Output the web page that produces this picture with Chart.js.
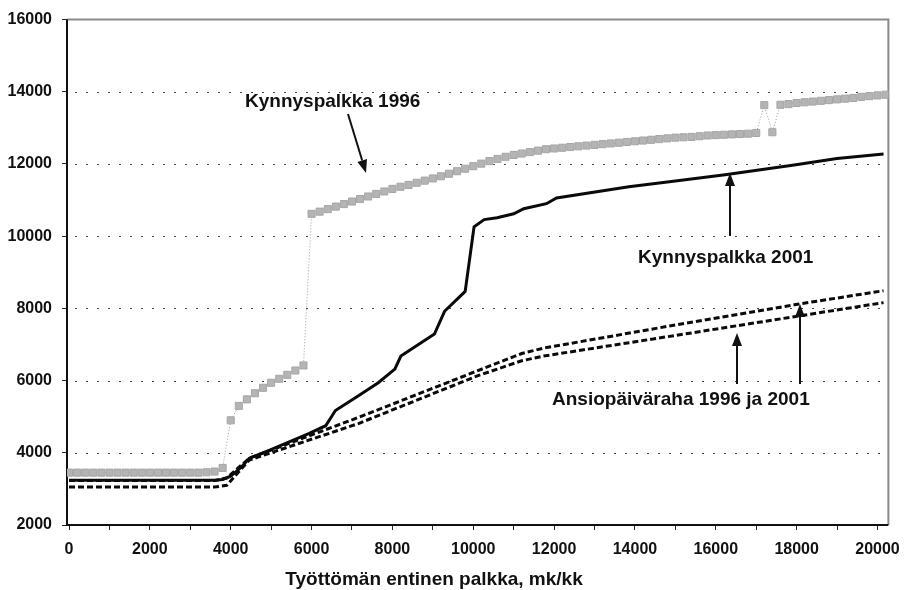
<!DOCTYPE html>
<html lang="fi">
<head>
  <meta charset="UTF-8" />
  <title>Kynnyspalkka ja ansiopäiväraha</title>
  <script src="https://cdn.jsdelivr.net/npm/chart.js"></script>
  <style>
    html, body { margin: 0; padding: 0; background: #fff; }
    #wrap { width: 910px; height: 590px; }
  </style>
</head>
<body>
  <div id="wrap"><canvas id="chart" width="910" height="590"></canvas></div>

  <script>
    // x axis labels (mk/kk)
    const xTicks = [0, 2000, 4000, 6000, 8000, 10000, 12000, 14000, 16000, 18000, 20000];
    const yTicks = [2000, 4000, 6000, 8000, 10000, 12000, 14000, 16000];

    // Kynnyspalkka 1996, read every 200 mk/kk starting at 0
    const kynnys1996 = [
      3450, 3450, 3450, 3450, 3450, 3450, 3450, 3450, 3450, 3450,
      3450, 3450, 3450, 3450, 3450, 3450, 3450, 3460, 3480, 3580,
      4900, 5300, 5480, 5650, 5800, 5940, 6050, 6160, 6280, 6420,
      10620, 10680, 10750, 10820, 10890, 10960, 11030, 11100, 11170, 11240,
      11310, 11370, 11420, 11480, 11540, 11600, 11660, 11730, 11800, 11870,
      11940, 12010, 12080, 12140, 12200, 12250, 12290, 12330, 12370, 12410,
      12430, 12450, 12470, 12490, 12510, 12530, 12550, 12570, 12590, 12610,
      12630, 12650, 12670, 12690, 12710, 12730, 12740, 12750, 12770, 12790,
      12800, 12810, 12820, 12830, 12840, 12860, 13630, 12880, 13640, 13660,
      13690, 13710, 13730, 13750, 13770, 13790, 13810, 13830, 13860, 13880,
      13900, 13920
    ];
    const kynnys1996X = kynnys1996.map((v, i) => i * 200);

    // Kynnyspalkka 2001
    const kynnys2001X = [0, 3600, 3800, 4000, 4260, 4460, 4950, 5930, 6350, 6590, 7160, 7650, 8060, 8210,
      9040, 9290, 9800, 10020, 10270, 10590, 11000, 11250, 11810, 12060, 13850, 15000, 16230, 17940, 19000, 20150];
    const kynnys2001 = [3240, 3240, 3260, 3350, 3600, 3850, 4070, 4530, 4750, 5170, 5580, 5940, 6320, 6680,
      7290, 7920, 8470, 10260, 10460, 10510, 10620, 10760, 10900, 11060, 11370, 11530, 11700, 11970, 12150, 12280];

    // Ansiopäiväraha, upper and lower dashed line
    const ansioX = [0, 3600, 3900, 4460, 7160, 10100, 11200, 11740, 15000, 17940, 20150];
    const ansioYlempi = [3230, 3230, 3300, 3850, 4980, 6270, 6750, 6900, 7540, 8100, 8490];
    const ansioAlempi = [3050, 3050, 3100, 3800, 4810, 6130, 6550, 6680, 7250, 7770, 8160];

    const pts = (xs, ys) => xs.map((x, i) => ({ x: x, y: ys[i] }));
    const FONT = "'Liberation Sans', Arial, sans-serif";

    // tick marks every 1000, labels every 2000
    const xTickMarks = [];
    xTicks.forEach(v => { xTickMarks.push(v); if (v < 20000) xTickMarks.push(v + 1000); });

    const frame = {
      id: 'frame',
      beforeDatasetsDraw(chart) {
        const { ctx, chartArea: a, scales: { y } } = chart;
        ctx.save();
        ctx.strokeStyle = '#444';
        ctx.lineWidth = 1;
        ctx.setLineDash([2, 9]);
        yTicks.forEach(v => {
          if (v === 2000 || v === 16000) return;
          const py = Math.round(y.getPixelForValue(v)) + 0.5;
          ctx.beginPath();
          ctx.moveTo(a.left + 8, py);
          ctx.lineTo(a.right, py);
          ctx.stroke();
        });
        ctx.setLineDash([]);
        ctx.strokeStyle = '#8a8a8a';
        ctx.lineWidth = 2;
        ctx.beginPath();
        ctx.moveTo(a.left, a.top);
        ctx.lineTo(a.right, a.top);
        ctx.lineTo(a.right, a.bottom);
        ctx.stroke();
        ctx.strokeStyle = '#111';
        ctx.lineWidth = 2;
        ctx.beginPath();
        ctx.moveTo(a.left, a.top);
        ctx.lineTo(a.left, a.bottom);
        ctx.lineTo(a.right, a.bottom);
        ctx.stroke();
        ctx.restore();
      },
      afterDraw(chart) {
        const ctx = chart.ctx;
        ctx.save();
        ctx.fillStyle = '#111';
        ctx.strokeStyle = '#111';
        ctx.font = 'bold 19px ' + FONT;
        ctx.textBaseline = 'alphabetic';
        ctx.fillText('Kynnyspalkka 1996', 245, 107);
        ctx.fillText('Kynnyspalkka 2001', 638, 263);
        ctx.fillText('Ansiopäiväraha 1996 ja 2001', 552, 405);

        ctx.textAlign = 'center';
        ctx.fillText('Työttömän entinen palkka, mk/kk', 434, 585);

        const arrow = (x0, y0, x1, y1) => {
          const ang = Math.atan2(y1 - y0, x1 - x0);
          const L = 13, W = 5;
          const bx = x1 - L * Math.cos(ang), by = y1 - L * Math.sin(ang);
          ctx.lineWidth = 2;
          ctx.beginPath();
          ctx.moveTo(x0, y0);
          ctx.lineTo(bx, by);
          ctx.stroke();
          ctx.beginPath();
          ctx.moveTo(x1, y1);
          ctx.lineTo(bx + W * Math.sin(ang), by - W * Math.cos(ang));
          ctx.lineTo(bx - W * Math.sin(ang), by + W * Math.cos(ang));
          ctx.closePath();
          ctx.fill();
        };
        arrow(348, 114, 366, 173);
        arrow(730, 236, 730, 173);
        arrow(737, 384, 737, 333);
        arrow(800, 384, 800, 304);
        ctx.restore();
      }
    };

    new Chart(document.getElementById('chart'), {
      type: 'line',
      data: {
        datasets: [
          {
            label: 'Kynnyspalkka 2001',
            data: pts(kynnys2001X, kynnys2001),
            borderColor: '#0a0a0a',
            borderWidth: 3,
            pointRadius: 0,
            tension: 0,
            order: 1
          },
          {
            label: 'Ansiopäiväraha (ylempi)',
            data: pts(ansioX, ansioYlempi),
            borderColor: '#0a0a0a',
            borderWidth: 3,
            borderDash: [6, 3],
            pointRadius: 0,
            tension: 0,
            order: 2
          },
          {
            label: 'Ansiopäiväraha (alempi)',
            data: pts(ansioX, ansioAlempi),
            borderColor: '#0a0a0a',
            borderWidth: 3,
            borderDash: [6, 3],
            pointRadius: 0,
            tension: 0,
            order: 3
          },
          {
            label: 'Kynnyspalkka 1996',
            data: pts(kynnys1996X, kynnys1996),
            borderColor: '#9a9a9a',
            borderWidth: 1,
            borderDash: [1, 2],
            pointStyle: 'rect',
            pointRadius: 5,
            pointBackgroundColor: '#b4b4b4',
            pointBorderColor: '#a6a6a6',
            pointBorderWidth: 1,
            tension: 0,
            order: 4
          }
        ]
      },
      options: {
        responsive: false,
        animation: false,
        events: [],
        layout: { padding: { top: 17, right: 21, left: 0, bottom: 0 } },
        plugins: {
          legend: { display: false },
          tooltip: { enabled: false }
        },
        scales: {
          x: {
            type: 'linear',
            min: -50,
            max: 20270,
            afterBuildTicks: s => { s.ticks = xTickMarks.map(v => ({ value: v })); },
            afterFit: s => { s.height = 65; },
            ticks: {
              autoSkip: false,
              maxRotation: 0,
              padding: 10,
              color: '#111',
              font: { family: FONT, size: 16, weight: 'bold' },
              callback: v => (xTicks.includes(v) ? String(v) : '')
            },
            grid: { drawOnChartArea: false, tickLength: 5, tickColor: '#222', tickWidth: 1 },
            border: { display: false }
          },
          y: {
            min: 2000,
            max: 16000,
            afterBuildTicks: s => { s.ticks = yTicks.map(v => ({ value: v })); },
            afterFit: s => { s.width = 67; },
            ticks: {
              padding: 10,
              color: '#111',
              font: { family: FONT, size: 16, weight: 'bold' },
              callback: v => String(v)
            },
            grid: { drawOnChartArea: false, tickLength: 5, tickColor: '#222', tickWidth: 1 },
            border: { display: false }
          }
        }
      },
      plugins: [frame]
    });
  </script>
</body>
</html>
